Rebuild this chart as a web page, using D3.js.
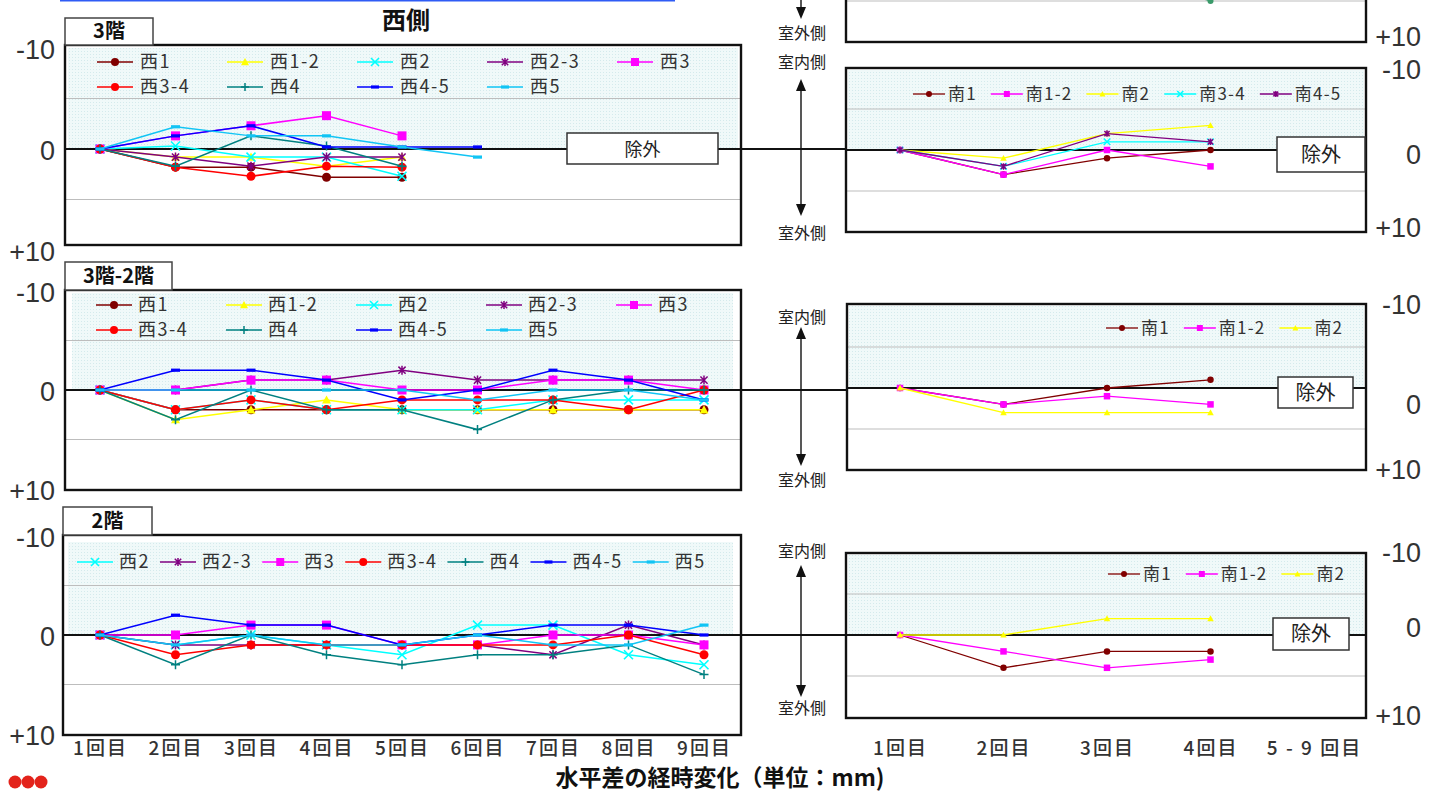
<!DOCTYPE html>
<html>
<head>
<meta charset="utf-8">
<script src="https://cdn.jsdelivr.net/npm/d3@7"></script>
<style>
  body { margin: 0; background: #fff; }
  text { font-family: "Noto Sans CJK JP", "Noto Sans", sans-serif; }
  .num { font-family: "Liberation Sans Narrow", "Liberation Sans", sans-serif; font-size: 27px; fill: #333; }
</style>
</head>
<body>
<svg id="chart" width="1438" height="794"></svg>
<script>
// ---- data ----
var westCats = ["1回目", "2回目", "3回目", "4回目", "5回目", "6回目", "7回目", "8回目", "9回目"];
var southCats = ["1回目", "2回目", "3回目", "4回目", "5 - 9 回目"];

// 西側 3階
var w3Names = ["西1", "西1-2", "西2", "西2-3", "西3", "西3-4", "西4", "西4-5", "西5"];
var w3Values = [
  [0, 1.8, 1.8, 2.8, 2.8],
  [0, 0.8, 0.8, 1.7, 0.8],
  [0, -0.3, 0.8, 0.8, 2.7],
  [0, 0.8, 1.7, 0.8, 0.8],
  [0, -1.3, -2.3, -3.3, -1.3],
  [0, 1.8, 2.7, 1.7, 1.8],
  [0, 1.7, -1.3, -0.3, 1.7],
  [0, -1.3, -2.3, -0.2, -0.2, -0.2],
  [0, -2.2, -1.3, -1.3, -0.2, 0.8]
];

// 西側 3階-2階
var w32Names = ["西1", "西1-2", "西2", "西2-3", "西3", "西3-4", "西4", "西4-5", "西5"];
var w32Values = [
  [0, 2, 2, 2, 2, 2, 2, 2, 2],
  [0, 3, 2, 1, 2, 2, 2, 2, 2],
  [0, 2, 1, 2, 2, 2, 1, 1, 1],
  [0, 0, -1, -1, -2, -1, -1, -1, -1],
  [0, 0, -1, -1, 0, 0, -1, -1, 0],
  [0, 2, 1, 2, 1, 1, 1, 2, 0],
  [0, 3, 0, 2, 2, 4, 1, 0, 0],
  [0, -2, -2, -1, 1, 0, -2, -1, 1],
  [0, 0, 0, 0, 0, 1, 0, 0, 1]
];

// 西側 2階
var w2Names = ["西2", "西2-3", "西3", "西3-4", "西4", "西4-5", "西5"];
var w2Values = [
  [0, 1, 0, 1, 2, -1, -1, 2, 3],
  [0, 1, 1, 1, 1, 1, 2, -1, 1],
  [0, 0, -1, -1, 1, 1, 0, 0, 1],
  [0, 2, 1, 1, 1, 1, 1, 0, 2],
  [0, 3, 0, 2, 3, 2, 2, 1, 4],
  [0, -2, -1, -1, 1, 0, -1, -1, 0],
  [0, 1, 0, 1, 1, 0, 1, 1, -1]
];

// 南側 (上の切れたパネル)
var sTopNames = ["南"];
var sTopValues = [[0, 0, 1.2, 5]];

// 南側 3階
var s3Names = ["南1", "南1-2", "南2", "南3-4", "南4-5"];
var s3Values = [
  [0, 3, 1, 0],
  [0, 3, 0, 2],
  [0, 1, -2, -3],
  [0, 2, -1, -1],
  [0, 2, -2, -1]
];

// 南側 3階-2階
var s32Names = ["南1", "南1-2", "南2"];
var s32Values = [
  [0, 2, 0, -1],
  [0, 2, 1, 2],
  [0, 3, 3, 3]
];

// 南側 2階
var s2Names = ["南1", "南1-2", "南2"];
var s2Values = [
  [0, 4, 2, 2],
  [0, 2, 4, 3],
  [0, 0, -2, -2]
];

var yTicks = [-10, 0, 10];
var yTickText = ["-10", "0", "+10"];

// ---- styles ----
var styles = {
  "西1": { c: "#800000", m: "circle" },
  "西1-2": { c: "#ffff00", m: "triangle" },
  "西2": { c: "#00ffff", m: "x" },
  "西2-3": { c: "#800080", m: "star" },
  "西3": { c: "#ff00ff", m: "square" },
  "西3-4": { c: "#ff0000", m: "circle" },
  "西4": { c: "#008080", m: "plus" },
  "西4-5": { c: "#0000ff", m: "dash" },
  "西5": { c: "#11c4f4", m: "dash" },
  "南": { c: "#3a9a6a", m: "circle" },
  "南1": { c: "#800000", m: "circle" },
  "南1-2": { c: "#ff00ff", m: "square" },
  "南2": { c: "#ffff00", m: "triangle" },
  "南3-4": { c: "#00ffff", m: "x" },
  "南4-5": { c: "#800080", m: "star" }
};

var svg = d3.select("#chart");

var defs = svg.append("defs");
var pat = defs.append("pattern").attr("id", "dots")
  .attr("width", 3).attr("height", 3).attr("patternUnits", "userSpaceOnUse");
pat.append("rect").attr("width", 3).attr("height", 3).attr("fill", "#f0f9f9");
pat.append("rect").attr("width", 1).attr("height", 1).attr("fill", "#d4eaec");

var xL = d3.scalePoint().domain(westCats).range([100, 704]);
var xR = d3.scalePoint().domain(southCats).range([900, 1314]);

// draw one marker
function marker(g, type, x, y, color, s) {
  var h = s / 2;
  if (type === "circle") {
    g.append("circle").attr("cx", x).attr("cy", y).attr("r", h).attr("fill", color);
  } else if (type === "square") {
    g.append("rect").attr("x", x - h).attr("y", y - h).attr("width", s).attr("height", s).attr("fill", color);
  } else if (type === "triangle") {
    g.append("path").attr("d", "M" + x + "," + (y - h) + "L" + (x + h) + "," + (y + h * 0.8) + "L" + (x - h) + "," + (y + h * 0.8) + "Z")
      .attr("fill", color);
  } else if (type === "x") {
    g.append("path").attr("d", "M" + (x - h) + "," + (y - h) + "L" + (x + h) + "," + (y + h) + "M" + (x - h) + "," + (y + h) + "L" + (x + h) + "," + (y - h))
      .attr("stroke", color).attr("stroke-width", 1.6).attr("fill", "none");
  } else if (type === "star") {
    var k = h * 0.8;
    g.append("path").attr("d", "M" + (x - k) + "," + (y - k) + "L" + (x + k) + "," + (y + k) + "M" + (x - k) + "," + (y + k) + "L" + (x + k) + "," + (y - k) + "M" + x + "," + (y - h) + "L" + x + "," + (y + h))
      .attr("stroke", color).attr("stroke-width", 1.5).attr("fill", "none");
  } else if (type === "plus") {
    g.append("path").attr("d", "M" + (x - h) + "," + y + "L" + (x + h) + "," + y + "M" + x + "," + (y - h) + "L" + x + "," + (y + h))
      .attr("stroke", color).attr("stroke-width", 1.5).attr("fill", "none");
  } else if (type === "dash") {
    g.append("rect").attr("x", x - h).attr("y", y - 1.6).attr("width", s).attr("height", 3.2).attr("fill", color);
  }
}

function drawPanel(p) {
  var g = svg.append("g");
  var y = d3.scaleLinear().domain([-10, 10]).range(p.yr);
  var b = p.box;

  if (p.shade) {
    g.append("rect").attr("x", b[0] + p.shade[0]).attr("y", b[1] + p.shade[1])
      .attr("width", b[2] - b[0] - p.shade[0] - p.shade[2]).attr("height", y(0) - b[1] - p.shade[1])
      .attr("fill", "url(#dots)");
  }
  [-5, 5].forEach(function (v) {
    g.append("line").attr("x1", b[0]).attr("x2", b[2]).attr("y1", y(v)).attr("y2", y(v))
      .attr("stroke", "#bdbdbd").attr("stroke-width", 1.2);
  });
  if (p.zero) {
    g.append("line").attr("x1", p.zero[0]).attr("x2", p.zero[1]).attr("y1", y(0)).attr("y2", y(0))
      .attr("stroke", "#111").attr("stroke-width", 2.2);
  }
  g.append("rect").attr("x", b[0]).attr("y", b[1]).attr("width", b[2] - b[0]).attr("height", b[3] - b[1])
    .attr("fill", "none").attr("stroke", "#111").attr("stroke-width", 2.4);

  if (p.excl) {
    var e = p.excl;
    g.append("rect").attr("x", e[0]).attr("y", e[1]).attr("width", e[2] - e[0]).attr("height", e[3] - e[1])
      .attr("fill", "#fff").attr("stroke", "#333").attr("stroke-width", 1.5);
    g.append("text").attr("x", (e[0] + e[2]) / 2).attr("y", (e[1] + e[3]) / 2 + 7)
      .attr("text-anchor", "middle").style("font-size", e[4] + "px").style("fill", "#222").text("除外");
  }

  var cats = p.x.domain();
  var line = d3.line()
    .x(function (d, i) { return p.x(cats[i]); })
    .y(function (d) { return y(d); });

  p.names.forEach(function (name, k) {
    var st = styles[name];
    var vals = p.values[k];
    g.append("path").datum(vals).attr("d", line)
      .attr("fill", "none").attr("stroke", st.c).attr("stroke-width", p.lw);
    vals.forEach(function (v, i) {
      marker(g, st.m, p.x(cats[i]), y(v), st.c, p.ms);
    });
  });

  // legend
  if (p.legend) {
    var L = p.legend;
    var cx = L.x0;
    p.names.forEach(function (name, k) {
      var st = styles[name];
      var lx, ly;
      if (L.cols) {
        lx = L.x0 + (k % L.cols) * L.step;
        ly = L.y0 + Math.floor(k / L.cols) * L.rowH;
      } else {
        lx = cx; ly = L.y0;
      }
      g.append("line").attr("x1", lx).attr("x2", lx + L.len).attr("y1", ly).attr("y2", ly)
        .attr("stroke", st.c).attr("stroke-width", p.lw);
      marker(g, st.m, lx + L.len / 2, ly, st.c, L.ms);
      var t = g.append("text").attr("x", lx + L.len + L.gap).attr("y", ly + L.fs * 0.36)
        .style("font-size", L.fs + "px").style("letter-spacing", L.ls + "px").style("fill", "#333")
        .text(name);
      if (!L.cols) cx = lx + L.len + L.gap + t.node().getComputedTextLength() + L.after;
    });
  }

  // y labels
  if (p.side === "left") {
    var ax = d3.axisLeft(y).tickValues(yTicks).tickSize(0).tickPadding(0)
      .tickFormat(function (d, i) { return yTickText[i]; });
    var ag = g.append("g").attr("transform", "translate(55,2)").call(ax);
    ag.select(".domain").remove();
    ag.selectAll("text").attr("class", "num").attr("font-family", null).attr("font-size", null);
  } else if (p.labY) {
    p.labY.forEach(function (ly, i) {
      if (ly == null) return;
      g.append("text").attr("class", "num").attr("x", 1421).attr("y", ly + 9)
        .attr("text-anchor", "end").text(yTickText[i]);
    });
  }

  // panel title box
  if (p.title) {
    var tb = p.title;
    g.append("rect").attr("x", tb[0]).attr("y", tb[1]).attr("width", tb[2] - tb[0]).attr("height", tb[3] - tb[1])
      .attr("fill", "#fff").attr("stroke", "#444").attr("stroke-width", 1.5);
    g.append("text").attr("x", (tb[0] + tb[2]) / 2).attr("y", tb[3] - 7).attr("text-anchor", "middle")
      .style("font-size", "20px").style("font-weight", "bold").style("fill", "#111").text(tb[4]);
  }
  return y;
}

// side arrows 室内側 / 室外側
function sideArrow(top, bottom, tIn, tOut) {
  var g = svg.append("g");
  g.append("line").attr("x1", 801).attr("x2", 801).attr("y1", top + 8).attr("y2", bottom - 8)
    .attr("stroke", "#111").attr("stroke-width", 1.4);
  if (tIn != null) {
    g.append("path").attr("d", "M801," + top + "L796," + (top + 12) + "L806," + (top + 12) + "Z").attr("fill", "#111");
    g.append("text").attr("x", 802).attr("y", tIn + 6).attr("text-anchor", "middle")
      .style("font-size", "16px").style("fill", "#222").text("室内側");
  }
  g.append("path").attr("d", "M801," + bottom + "L796," + (bottom - 12) + "L806," + (bottom - 12) + "Z").attr("fill", "#111");
  g.append("text").attr("x", 802).attr("y", tOut + 6).attr("text-anchor", "middle")
    .style("font-size", "16px").style("fill", "#222").text("室外側");
}

// top rule
svg.append("line").attr("x1", 60).attr("x2", 675).attr("y1", 0.5).attr("y2", 0.5)
  .attr("stroke", "#2f5cf5").attr("stroke-width", 2);

svg.append("text").attr("x", 406).attr("y", 29).attr("text-anchor", "middle")
  .style("font-size", "24px").style("font-weight", "bold").style("fill", "#111").text("西側");

// left panels
drawPanel({
  side: "left", x: xL, box: [65, 45, 741, 245], yr: [48, 250], shade: [3, 3, 3],
  zero: [65, 846], names: w3Names, values: w3Values, lw: 1.5, ms: 9,
  excl: [567, 133, 718, 164, 18],
  legend: { cols: 5, x0: 97, step: 130, y0: 62, rowH: 25, len: 36, gap: 7, fs: 18, ls: 1.5, ms: 8 },
  title: [65, 18, 153, 45, "3階"]
});
drawPanel({
  side: "left", x: xL, box: [65, 290, 741, 490], yr: [291, 489], shade: [7, 3, 8],
  zero: [65, 846], names: w32Names, values: w32Values, lw: 1.5, ms: 9,
  legend: { cols: 5, x0: 96, step: 130, y0: 305, rowH: 25, len: 36, gap: 6, fs: 18, ls: 1.5, ms: 8 },
  title: [65, 262, 172, 290, "3階-2階"]
});
drawPanel({
  side: "left", x: xL, box: [63, 535, 741, 735], yr: [536, 734], shade: [5, 7, 8],
  zero: [63, 846], names: w2Names, values: w2Values, lw: 1.5, ms: 9,
  legend: { x0: 77, y0: 562, len: 36, gap: 6, after: 10, fs: 18, ls: 1.5, ms: 8 },
  title: [63, 507, 152, 535, "2階"]
});

// right panels
drawPanel({
  side: "right", x: xR, box: [846, -120, 1366, 42], yr: [-122, 42],
  names: sTopNames, values: sTopValues, lw: 1.3, ms: 6,
  labY: [null, null, 37]
});
sideArrow(-20, 19, null, 33);

drawPanel({
  side: "right", x: xR, box: [846, 68, 1366, 232], yr: [68, 232], shade: [2, 2, 2],
  zero: [846, 1366], names: s3Names, values: s3Values, lw: 1.3, ms: 6.5,
  excl: [1277, 137, 1365, 172, 20],
  legend: { x0: 913, y0: 94, len: 32, gap: 3, after: 14, fs: 17, ls: 1.2, ms: 6 },
  labY: [70, 155, 228]
});
sideArrow(79, 216, 62, 233);

drawPanel({
  side: "right", x: xR, box: [847, 304, 1366, 470], yr: [306, 470], shade: [2, 2, 2],
  zero: [846, 1366], names: s32Names, values: s32Values, lw: 1.3, ms: 6.5,
  excl: [1278, 377, 1353, 408, 20],
  legend: { x0: 1106, y0: 328, len: 32, gap: 3, after: 14, fs: 17, ls: 1.2, ms: 6 },
  labY: [305, 405, 470]
});
sideArrow(327, 466, 317, 480);

drawPanel({
  side: "right", x: xR, box: [846, 553, 1366, 718], yr: [553, 717], shade: [2, 2, 2],
  zero: [846, 1366], names: s2Names, values: s2Values, lw: 1.3, ms: 6.5,
  excl: [1273, 618, 1349, 650, 20],
  legend: { x0: 1108, y0: 574, len: 32, gap: 3, after: 14, fs: 17, ls: 1.2, ms: 6 },
  labY: [553, 628, 716]
});
sideArrow(565, 697, 551, 708);

// category axes
function catAxis(scale) {
  var a = svg.append("g").attr("transform", "translate(0,739)")
    .call(d3.axisBottom(scale).tickSize(0).tickPadding(2));
  a.select(".domain").remove();
  a.selectAll("text").attr("font-family", null).attr("font-size", null)
    .style("font-size", "19px").style("font-weight", "500").style("letter-spacing", "2px").style("fill", "#333");
}
catAxis(xL);
catAxis(xR);

svg.append("text").attr("x", 720).attr("y", 786).attr("text-anchor", "middle")
  .style("font-size", "23px").style("font-weight", "bold").style("fill", "#111").text("水平差の経時変化（単位：mm)");

// logo dots
[15, 28, 41].forEach(function (cx) {
  svg.append("circle").attr("cx", cx).attr("cy", 782).attr("r", 6.5).attr("fill", "#e3231b");
});
</script>
</body>
</html>
